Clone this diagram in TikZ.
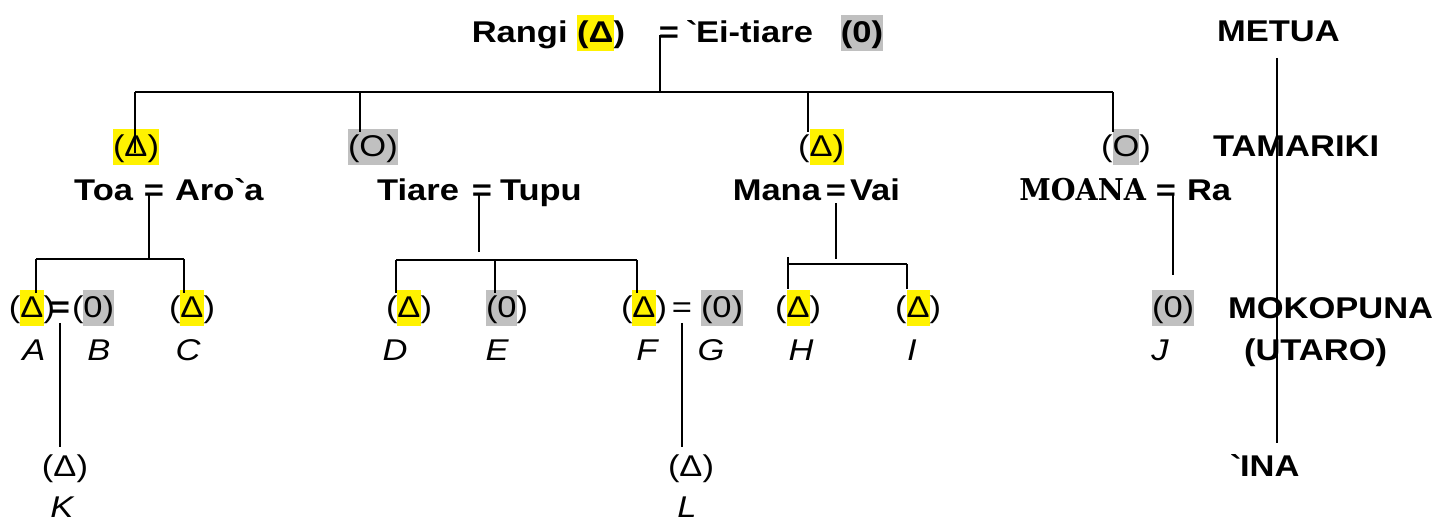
\documentclass[tikz,border=0pt]{standalone}
\usepackage{fontspec}
\setmainfont{Liberation Sans}[FakeStretch=1.15]
\newfontfamily\moanafont{DejaVu Serif}[FakeStretch=0.95]
\usepackage{xcolor}
\definecolor{hlgray}{RGB}{192,192,192}
\newcommand\hlstrut{\rule[-0.28em]{0pt}{1.2em}}
\newcommand\hly[1]{{\setlength{\fboxsep}{0pt}\colorbox{yellow}{\hlstrut#1}}}
\newcommand\hlg[1]{{\setlength{\fboxsep}{0pt}\colorbox{hlgray}{\hlstrut#1}}}

\begin{document}
\fontsize{15}{18}\selectfont
\begin{tikzpicture}[x=0.5pt,y=-0.5pt,line width=1pt]
 \tikzstyle{name node}=[font=\bfseries,inner sep=0]
 \tikzstyle{sym node}=[inner sep=0,anchor=base west]
 \tikzstyle{letter node}=[font=\itshape,inner sep=0,anchor=base]
 \tikzset{
 	gen node/.style={font=\bfseries,inner sep=0,anchor=base west},
 	eq node/.style={inner sep=0,anchor=base},
 	drop/.style={shorten >=-2pt},
 	gap/.style={shorten <=2pt,shorten >=3.5pt}
 }
 \useasboundingbox (0,0) rectangle (1444,522);

       % metua
       \node[name node,anchor=base east] (rangi) at (626,43) {Rangi \hly{(Δ})};
       \node[eq node,font=\bfseries] (eq0) at (669,43) {=};
       \node[name node,anchor=base west] (eitiare) at (685,43) {\textasciigrave Ei-tiare\hspace{14pt}\hlg{(0)}};

       % tamariki
       \node[sym node] (s1) at (112,157) {\hly{(Δ)}};
       \node[sym node] (s2) at (347,157) {\hlg{(O)}};
       \node[sym node] (s3) at (797,157) {(\hly{Δ)}};
       \node[sym node] (s4) at (1100,157) {(\hlg{O})};

       \node[name node,anchor=base east] (toa) at (134,201) {Toa};
       \node[eq node,font=\bfseries] (eq1) at (154,201) {=};
       \node[name node,anchor=base west] (aroa) at (174,201) {Aro\textasciigrave a};
       \node[name node,anchor=base east] (tiare) at (460,201) {Tiare};
       \node[eq node,font=\bfseries] (eq2) at (482,201) {=};
       \node[name node,anchor=base west] (tupu) at (499,201) {Tupu};
       \node[name node,anchor=base east] (mana) at (822,201) {Mana};
       \node[eq node,font=\bfseries] (eq3) at (836,201) {=};
       \node[name node,anchor=base west] (vai) at (849,201) {Vai};
       \node[name node,anchor=base east,font=\moanafont\bfseries] (moana) at (1147,201) {MOANA};
       \node[eq node,font=\bfseries] (eq4) at (1166,201) {=};
       \node[name node,anchor=base west] (ra) at (1186,201) {Ra};

       % mokopuna
       \node[sym node] (a) at (8,318) {(\hly{Δ})};
       \node[eq node,font=\bfseries] (eqA) at (60,318) {=};
       \node[sym node] (b) at (71,318) {(\hlg{0)}};
       \node[sym node] (c) at (168,318) {(\hly{Δ})};
       \node[sym node] (d) at (385,318) {(\hly{Δ})};
       \node[sym node] (e) at (485,318) {\hlg{(0})};
       \node[sym node] (f) at (620,318) {(\hly{Δ})};
       \node[eq node] (eqF) at (682,318) {=};
       \node[sym node] (g) at (700,318) {\hlg{(0)}};
       \node[sym node] (h) at (774,318) {(\hly{Δ})};
       \node[sym node] (i) at (894,318) {(\hly{Δ})};
       \node[sym node] (j) at (1151,318) {\hlg{(0)}};

       \node[letter node] (lA) at (34,361) {A};
       \node[letter node] (lB) at (99,361) {B};
       \node[letter node] (lC) at (188,361) {C};
       \node[letter node] (lD) at (395,361) {D};
       \node[letter node] (lE) at (497,361) {E};
       \node[letter node] (lF) at (647,361) {F};
       \node[letter node] (lG) at (711,361) {G};
       \node[letter node] (lH) at (801,361) {H};
       \node[letter node] (lI) at (912,361) {I};
       \node[letter node] (lJ) at (1160,361) {J};

       % ina
       \node[eq node] (k) at (65,477) {(Δ)};
       \node[letter node] (lK) at (62,518) {K};
       \node[eq node] (l) at (691,477) {(Δ)};
       \node[letter node] (lL) at (687,518) {L};

       % generations
       \node[gen node] (metua) at (1216,42) {METUA};
       \node[gen node] (tamariki) at (1212,157) {TAMARIKI};
       \node[gen node] (mokopuna) at (1227,319) {MOKOPUNA};
       \node[gen node] (utaro) at (1243,361) {(UTARO)};
       \node[gen node] (ina) at (1229,477) {\textasciigrave INA};

       \coordinate (axtop) at (1277,58);
       \coordinate (axbot) at (1277,443);
       \coordinate (b1) at (135,92);
       \coordinate (b2) at (360,92);
       \coordinate (b3) at (808,92);
       \coordinate (b4) at (1113,92);
       \coordinate (t1) at (149,259);
       \coordinate (ta) at (36,259);
       \coordinate (tc) at (184,259);
       \coordinate (t2) at (479,260);
       \coordinate (td) at (396,260);
       \coordinate (te) at (495,260);
       \coordinate (tf) at (637,260);
       \coordinate (t3) at (836,264);
       \coordinate (th) at (788,264);
       \coordinate (ti) at (907,264);
       \coordinate (tj) at (1173,275);

     \draw (axtop) -- (axbot);
     \draw (eq0.center -| 660,0) -- (b1 -| 660,0);
     \draw (b1) -- (b4);
     \draw[shorten >=2pt] (b1) -- (b1 |- s1.base);
     \draw[drop] (b2) -- (b2 |- s2.north);
     \draw[drop] (b3) -- (b3 |- s3.north);
     \draw[drop] (b4) -- (b4 |- s4.north);

     \draw (eq1.center -| t1) -- (t1);
     \draw (ta) -- (tc);
     \draw[drop] (ta) -- (ta |- a.north);
     \draw[drop] (tc) -- (tc |- c.north);

     \draw[shorten >=4pt] (eq2.center -| t2) -- (t2);
     \draw (td) -- (tf);
     \draw[drop] (td) -- (td |- d.north);
     \draw[drop] (te) -- (te |- e.north);
     \draw[drop] (tf) -- (tf |- f.north);

     \draw[shorten <=5pt,shorten >=2.5pt] (eq3.center -| t3) -- (t3);
     \draw (th) -- (ti);
     \draw[shorten <=-3.5pt] (th) -- (th |- h.north);
     \draw (ti) -- (ti |- i.north);

     \draw (eq4.center -| tj) -- (tj);

     \draw[gap] (eqA.south) -- (eqA.south |- k.north);
     \draw[gap] (eqF.south) -- (eqF.south |- l.north);
 \end{tikzpicture}
\end{document}
